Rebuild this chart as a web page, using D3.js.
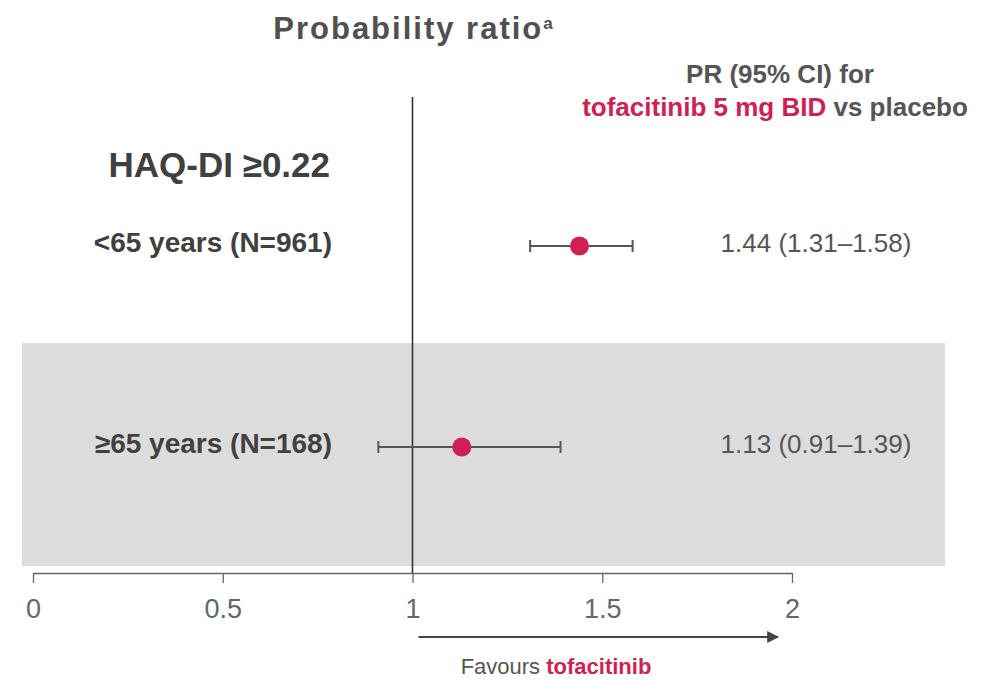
<!DOCTYPE html>
<html>
<head>
<meta charset="utf-8">
<script src="https://cdn.jsdelivr.net/npm/d3@7"></script>
<style>
  html, body { margin: 0; padding: 0; background: #fff; }
  svg { display: block; font-family: "Liberation Sans", Arial, sans-serif; }
</style>
</head>
<body>
<svg id="chart" width="985" height="680"></svg>
<script>
// Subgroups, point estimates and 95% confidence limits
const subgroups = ["<65 years (N=961)", "≥65 years (N=168)"];
const estimates = [1.44, 1.13];
const lowerCI = [1.31, 0.91];
const upperCI = [1.58, 1.39];
const ciLabels = ["1.44 (1.31–1.58)", "1.13 (0.91–1.39)"];
const tickValues = [0, 0.5, 1, 1.5, 2];
const tickLabels = ["0", "0.5", "1", "1.5", "2"];

const accent = "#d11f54";
const textDark = "#404040";
const svg = d3.select("#chart");

const x = d3.scaleLinear().domain([0, 2]).range([33, 792]);
const y = d3.scalePoint().domain(subgroups).range([246, 447]);

// Shaded band behind the second subgroup
svg.append("rect")
  .attr("x", 22).attr("y", 343).attr("width", 923).attr("height", 223)
  .attr("fill", "#dcdcdc");

// Title
const title = svg.append("text")
  .attr("x", 414).attr("y", 39).attr("text-anchor", "middle")
  .attr("font-size", 31).attr("letter-spacing", 2).attr("font-weight", "bold").attr("fill", "#505050");
title.append("tspan").text("Probability ratio");
title.append("tspan").attr("font-size", 17).attr("dy", -10).text("a");

// Column header
const h1 = svg.append("text").attr("x", 780).attr("y", 83)
  .attr("text-anchor", "middle").attr("font-size", 26).attr("font-weight", "bold").attr("fill", "#555");
h1.text("PR (95% CI) for");
const h2 = svg.append("text").attr("x", 775).attr("y", 116)
  .attr("text-anchor", "middle").attr("font-size", 26).attr("font-weight", "bold").attr("fill", "#555");
h2.append("tspan").attr("fill", accent).text("tofacitinib 5 mg BID");
h2.append("tspan").text(" vs placebo");

// Section heading
svg.append("text").attr("x", 330).attr("y", 177).attr("text-anchor", "end")
  .attr("font-size", 35).attr("font-weight", "bold").attr("fill", textDark)
  .text("HAQ-DI ≥0.22");

// Reference line at PR = 1
svg.append("line")
  .attr("x1", x(1)).attr("x2", x(1)).attr("y1", 97).attr("y2", 573)
  .attr("stroke", "#333").attr("stroke-width", 1.6);

// Axis
const axis = d3.axisBottom(x).tickValues(tickValues)
  .tickFormat((d, i) => tickLabels[i]).tickSize(10).tickSizeOuter(0);
const gAxis = svg.append("g").attr("transform", "translate(0,573)").call(axis);
gAxis.select(".domain").attr("stroke", "#666").attr("stroke-width", 1.3);
gAxis.selectAll(".tick line").attr("stroke", "#666").attr("stroke-width", 1.3);
gAxis.selectAll(".tick text").attr("font-size", 27).attr("fill", "#666")
  .attr("font-family", "Liberation Sans, Arial, sans-serif")
  .attr("y", 45).attr("dy", 0);

// Rows
const rows = svg.append("g").selectAll("g").data(subgroups).join("g");

rows.append("text")
  .attr("x", 332).attr("y", d => y(d) + 6).attr("text-anchor", "end")
  .attr("font-size", 28).attr("font-weight", "bold").attr("fill", textDark)
  .text(d => d);

rows.append("line")
  .attr("x1", (d, i) => x(lowerCI[i])).attr("x2", (d, i) => x(upperCI[i]))
  .attr("y1", d => y(d)).attr("y2", d => y(d))
  .attr("stroke", "#555").attr("stroke-width", 2);

[lowerCI, upperCI].forEach(lim => {
  rows.append("line")
    .attr("x1", (d, i) => x(lim[i])).attr("x2", (d, i) => x(lim[i]))
    .attr("y1", d => y(d) - 6).attr("y2", d => y(d) + 6)
    .attr("stroke", "#555").attr("stroke-width", 2);
});

rows.append("circle")
  .attr("cx", (d, i) => x(estimates[i])).attr("cy", d => y(d)).attr("r", 9.5)
  .attr("fill", accent);

rows.append("text")
  .attr("x", 816).attr("y", d => y(d) + 6).attr("text-anchor", "middle")
  .attr("font-size", 26).attr("fill", "#555")
  .text((d, i) => ciLabels[i]);

// Direction arrow
svg.append("defs").append("marker")
  .attr("id", "arrowhead").attr("viewBox", "0 0 10 10")
  .attr("refX", 9).attr("refY", 5).attr("markerWidth", 6).attr("markerHeight", 6)
  .attr("orient", "auto").attr("markerUnits", "strokeWidth")
  .append("path").attr("d", "M0,0 L10,5 L0,10 Z").attr("fill", "#444");

svg.append("line")
  .attr("x1", x(1) + 6).attr("x2", 778).attr("y1", 637).attr("y2", 637)
  .attr("stroke", "#444").attr("stroke-width", 2)
  .attr("marker-end", "url(#arrowhead)");

const fav = svg.append("text").attr("x", 556).attr("y", 674)
  .attr("text-anchor", "middle").attr("font-size", 22).attr("fill", "#555");
fav.append("tspan").text("Favours ");
fav.append("tspan").attr("font-weight", "bold").attr("fill", accent).text("tofacitinib");
</script>
</body>
</html>
